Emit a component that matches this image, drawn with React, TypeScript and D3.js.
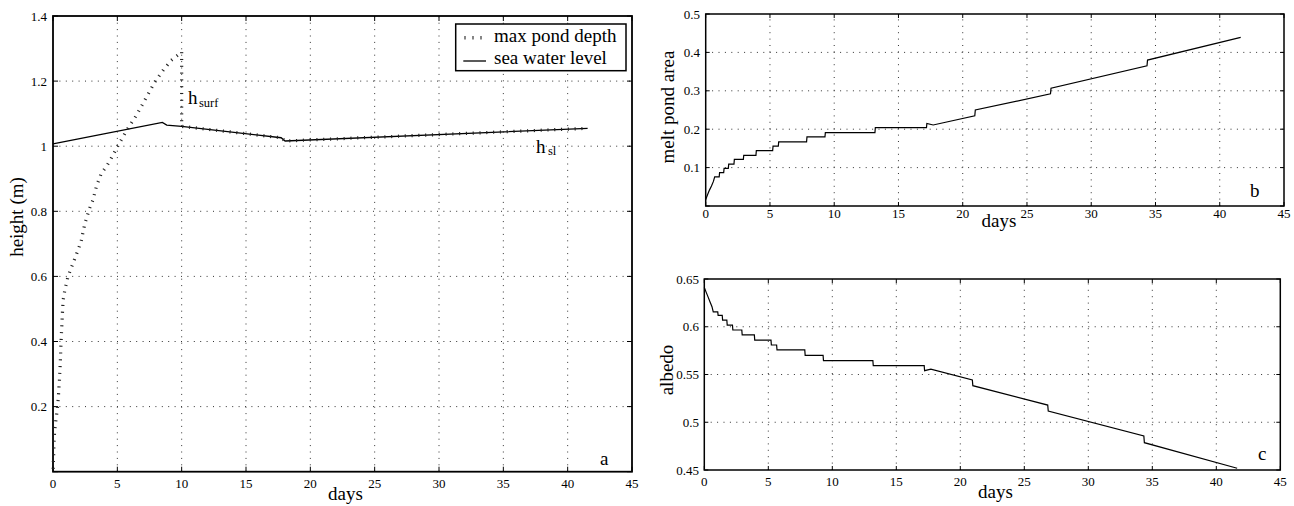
import React from "react";
import * as d3 from "d3";

// ---------- data ----------
const xTicks = [0, 5, 10, 15, 20, 25, 30, 35, 40, 45];

const seaDays = [0, 8.5, 8.84, 10.0, 17.73, 18.04, 41.55];
const seaLevel = [1.007, 1.073, 1.065, 1.061, 1.026, 1.016, 1.055];

const pondDays = [0, 0.03, 0.06, 0.08, 0.12, 0.2, 0.3, 0.4, 0.5, 0.58, 0.65, 0.72, 0.8, 0.93, 1.17, 1.55, 1.94, 2.2, 2.46, 2.85, 3.11, 3.37, 3.76, 4.14, 4.53, 4.8, 5.2, 5.73, 6.5, 7.28, 7.93, 8.57, 9.22, 9.87, 10.0, 10.0, 17.73, 18.04, 41.55];
const pondDepth = [0, 0.03, 0.06, 0.09, 0.12, 0.15, 0.18, 0.22, 0.28, 0.35, 0.42, 0.48, 0.53, 0.56, 0.6, 0.64, 0.68, 0.71, 0.76, 0.81, 0.835, 0.876, 0.917, 0.937, 0.963, 0.983, 1.012, 1.049, 1.096, 1.152, 1.198, 1.234, 1.265, 1.285, 1.29, 1.061, 1.026, 1.016, 1.055];

const stepDays = [0, 0.15, 0.3, 0.45, 0.6, 0.7, 1.05, 1.08, 1.4, 1.43, 1.76, 1.79, 2.2, 2.23, 2.93, 2.96, 3.91, 3.94, 5.21, 5.24, 5.65, 5.68, 7.85, 7.88, 9.28, 9.31, 13.17, 13.2, 17.18, 17.21, 17.7, 20.94, 20.98, 26.83, 26.87, 34.34, 34.38, 41.63];
const areaVals = [0.017, 0.03, 0.042, 0.052, 0.064, 0.076, 0.076, 0.087, 0.087, 0.098, 0.098, 0.109, 0.109, 0.1215, 0.1215, 0.132, 0.132, 0.144, 0.144, 0.156, 0.156, 0.167, 0.167, 0.18, 0.18, 0.191, 0.191, 0.204, 0.204, 0.215, 0.211, 0.235, 0.25, 0.292, 0.307, 0.365, 0.38, 0.439];
const albVals = [0.641, 0.636, 0.631, 0.626, 0.621, 0.6155, 0.6155, 0.612, 0.612, 0.607, 0.607, 0.6018, 0.6018, 0.5966, 0.5966, 0.5914, 0.5914, 0.5861, 0.5861, 0.5809, 0.5809, 0.5757, 0.5757, 0.5701, 0.5701, 0.5645, 0.5645, 0.5592, 0.5592, 0.554, 0.5557, 0.5442, 0.5383, 0.518, 0.5118, 0.4856, 0.4786, 0.4518];

const aYTicks = [0, 0.2, 0.4, 0.6, 0.8, 1.0, 1.2, 1.4];
const aYLabels = ["", "0.2", "0.4", "0.6", "0.8", "1", "1.2", "1.4"];
const bYTicks = [0, 0.1, 0.2, 0.3, 0.4, 0.5];
const bYLabels = ["", "0.1", "0.2", "0.3", "0.4", "0.5"];
const cYTicks = [0.45, 0.5, 0.55, 0.6, 0.65];
const cYLabels = ["0.45", "0.5", "0.55", "0.6", "0.65"];

const FONT = "'Liberation Serif', 'Times New Roman', Times, serif";

type Scale = d3.ScaleLinear<number, number>;

function Frame({ x, y, yTicks, yLabels, tickLen, boxW, xLabY, yLabX }: {
  x: Scale; y: Scale; yTicks: number[]; yLabels: string[]; tickLen: number; boxW: number; xLabY: number; yLabX: number;
}) {
  const [xa, xb] = x.range();
  const [ya, yb] = y.range(); // ya bottom, yb top
  return (
    <g>
      {/* grid */}
      {xTicks.slice(1, -1).map((t) => (
        <line key={"gx" + t} x1={x(t)} x2={x(t)} y1={ya} y2={yb} stroke="#333" strokeWidth={1} strokeDasharray="1 5.4" />
      ))}
      {yTicks.slice(1, -1).map((t) => (
        <line key={"gy" + t} x1={xa} x2={xb} y1={y(t)} y2={y(t)} stroke="#333" strokeWidth={1} strokeDasharray="1 5.4" />
      ))}
      {/* ticks */}
      {xTicks.map((t) => (
        <g key={"tx" + t}>
          <line x1={x(t)} x2={x(t)} y1={ya} y2={ya - tickLen} stroke="#000" strokeWidth={1} />
          <line x1={x(t)} x2={x(t)} y1={yb} y2={yb + tickLen} stroke="#000" strokeWidth={1} />
          <text x={x(t)} y={xLabY} fontSize={13} textAnchor="middle" fontFamily={FONT}>{t}</text>
        </g>
      ))}
      {yTicks.map((t, i) => (
        <g key={"ty" + t}>
          <line x1={xa} x2={xa + tickLen} y1={y(t)} y2={y(t)} stroke="#000" strokeWidth={1} />
          <line x1={xb} x2={xb - tickLen} y1={y(t)} y2={y(t)} stroke="#000" strokeWidth={1} />
          <text x={yLabX} y={y(t) + 4.5} fontSize={13} textAnchor="end" fontFamily={FONT}>{yLabels[i]}</text>
        </g>
      ))}
      <rect x={xa} y={yb} width={xb - xa} height={ya - yb} fill="none" stroke="#000" strokeWidth={boxW} />
    </g>
  );
}

function perpTicks(pts: [number, number][], step: number, len: number) {
  const out: { x1: number; y1: number; x2: number; y2: number }[] = [];
  let carry = step / 2;
  for (let i = 0; i < pts.length - 1; i++) {
    const [ax, ay] = pts[i];
    const [bx, by] = pts[i + 1];
    const segLen = Math.hypot(bx - ax, by - ay);
    if (segLen === 0) continue;
    const ux = (bx - ax) / segLen;
    const uy = (by - ay) / segLen;
    let s = carry;
    while (s <= segLen) {
      const px = ax + ux * s;
      const py = ay + uy * s;
      out.push({ x1: px - uy * len / 2, y1: py + ux * len / 2, x2: px + uy * len / 2, y2: py - ux * len / 2 });
      s += step;
    }
    carry = s - segLen;
  }
  return out;
}

export default function App() {
  // panel a
  const xa = d3.scaleLinear().domain([0, 45]).range([53, 632]);
  const ya = d3.scaleLinear().domain([0, 1.4]).range([471.7, 16]);
  // panel b
  const xb = d3.scaleLinear().domain([0, 45]).range([705.7, 1284]);
  const yb = d3.scaleLinear().domain([0, 0.5]).range([206, 14]);
  // panel c
  const xc = d3.scaleLinear().domain([0, 45]).range([704.3, 1280.3]);
  const yc = d3.scaleLinear().domain([0.45, 0.65]).range([470, 279]);

  const line = (x: Scale, y: Scale) => d3.line<[number, number]>().x((d) => x(d[0])).y((d) => y(d[1]));

  const seaPts = seaDays.map((d, i) => [d, seaLevel[i]] as [number, number]);
  const pondPx = pondDays.map((d, i) => [xa(d), ya(pondDepth[i])] as [number, number]);
  const pondTicks = perpTicks(pondPx, 6.8, 3.2);
  const areaPts = stepDays.map((d, i) => [d, areaVals[i]] as [number, number]);
  const albPts = stepDays.map((d, i) => [d, albVals[i]] as [number, number]);

  return (
    <svg width={1294} height={506} style={{ position: "absolute", left: 0, top: 0, background: "#fff" }} fontFamily={FONT}>
      <rect x={0} y={0} width={1294} height={506} fill="#fff" />
      {/* ---------- panel a ---------- */}
      <Frame x={xa} y={ya} yTicks={aYTicks} yLabels={aYLabels} tickLen={5} boxW={1.8} xLabY={488} yLabX={47} />
      <path d={line(xa, ya)(seaPts) || ""} fill="none" stroke="#000" strokeWidth={1.3} />
      {pondTicks.map((t, i) => (
        <line key={"pt" + i} x1={t.x1} y1={t.y1} x2={t.x2} y2={t.y2} stroke="#222" strokeWidth={1.1} />
      ))}
      <text x={188} y={104} fontSize={19}>h<tspan fontSize={12.5} dx={1.5} dy={2.5}>surf</tspan></text>
      <text x={536} y={153} fontSize={19}>h<tspan fontSize={12.5} dx={2.5} dy={2}>sl</tspan></text>
      <text x={600} y={465} fontSize={19}>a</text>
      <text x={345.5} y={500} fontSize={19} textAnchor="middle">days</text>
      <text transform="translate(23,217) rotate(-90)" fontSize={19} textAnchor="middle">height (m)</text>
      {/* legend */}
      <rect x={455.7} y={24} width={170.3} height={46.7} fill="#fff" stroke="#000" strokeWidth={1.5} />
      {[465, 473, 481].map((lx) => (
        <line key={"lg" + lx} x1={lx} x2={lx} y1={36} y2={39.5} stroke="#222" strokeWidth={1.1} />
      ))}
      <line x1={463.3} x2={486} y1={61} y2={61} stroke="#000" strokeWidth={1.3} />
      <text x={494} y={42} fontSize={19}>max pond depth</text>
      <text x={494} y={63.5} fontSize={19}>sea water level</text>

      {/* ---------- panel b ---------- */}
      <Frame x={xb} y={yb} yTicks={bYTicks} yLabels={bYLabels} tickLen={4} boxW={1.5} xLabY={218} yLabX={700} />
      <path d={line(xb, yb)(areaPts) || ""} fill="none" stroke="#000" strokeWidth={1.2} />
      <text x={1250} y={196.5} fontSize={19}>b</text>
      <text x={999} y={227} fontSize={19} textAnchor="middle">days</text>
      <text transform="translate(674,107) rotate(-90)" fontSize={19} textAnchor="middle">melt pond area</text>

      {/* ---------- panel c ---------- */}
      <Frame x={xc} y={yc} yTicks={cYTicks} yLabels={cYLabels} tickLen={4} boxW={1.5} xLabY={486} yLabX={699} />
      <path d={line(xc, yc)(albPts) || ""} fill="none" stroke="#000" strokeWidth={1.2} />
      <text x={1258} y={459.5} fontSize={19}>c</text>
      <text x={995.5} y={498} fontSize={19} textAnchor="middle">days</text>
      <text transform="translate(673,370) rotate(-90)" fontSize={19} textAnchor="middle">albedo</text>
    </svg>
  );
}
